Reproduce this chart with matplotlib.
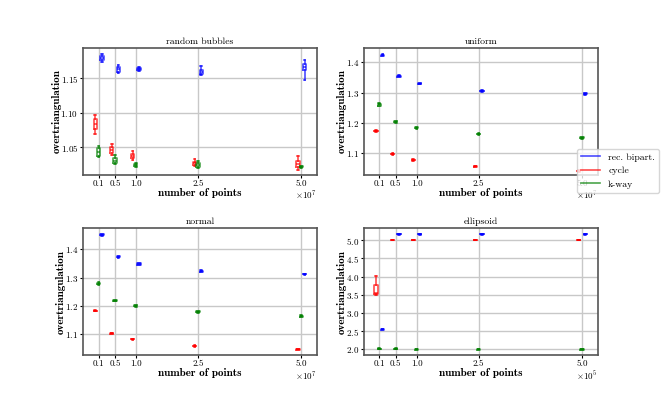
import matplotlib.pyplot as plt
from matplotlib.lines import Line2D

plt.rcParams.update({
    "font.family": "serif",
    "font.serif": ["cmr10"],
    "mathtext.fontset": "cm",
    "axes.formatter.use_mathtext": True,
    "font.size": 6.5,
    "xtick.major.size": 2.0,
    "ytick.major.size": 2.0,
    "xtick.major.pad": 1.5,
    "ytick.major.pad": 1.5,
})

# number of points (in units of the axis offset)
sizes = [0.1, 0.5, 1.0, 2.5, 5.0]
methods = ["rec. bipart.", "cycle", "k-way"]

# box stats per size: (whislo, q1, med, q3, whishi)
bubbles_bipart = [(1.174, 1.1765, 1.179, 1.182, 1.185), (1.157, 1.1586, 1.163, 1.167, 1.169),
                  (1.160, 1.162, 1.164, 1.165, 1.1668), (1.1543, 1.156, 1.159, 1.162, 1.1678),
                  (1.148, 1.162, 1.166, 1.1707, 1.177)]
bubbles_cycle = [(1.0687, 1.0763, 1.083, 1.0907, 1.0968), (1.0389, 1.0422, 1.046, 1.0509, 1.0547),
                 (1.0313, 1.034, 1.037, 1.0405, 1.0443), (1.0231, 1.0245, 1.027, 1.029, 1.0327),
                 (1.0164, 1.0217, 1.026, 1.0307, 1.038)]
bubbles_kway = [(1.036, 1.0375, 1.043, 1.0486, 1.0523), (1.025, 1.0265, 1.030, 1.0346, 1.0385),
                (1.022, 1.023, 1.024, 1.0255, 1.027), (1.0198, 1.0215, 1.024, 1.0278, 1.030),
                (1.0205, 1.0215, 1.022, 1.0225, 1.023)]

uniform_bipart = [(1.420, 1.422, 1.424, 1.426, 1.428), (1.351, 1.352, 1.354, 1.356, 1.357),
                  (1.327, 1.328, 1.330, 1.332, 1.333), (1.303, 1.304, 1.306, 1.307, 1.308),
                  (1.293, 1.294, 1.296, 1.298, 1.299)]
uniform_cycle = [(1.171, 1.172, 1.173, 1.174, 1.175), (1.095, 1.096, 1.097, 1.098, 1.099),
                 (1.075, 1.076, 1.077, 1.078, 1.079), (1.054, 1.055, 1.056, 1.057, 1.058),
                 (1.039, 1.040, 1.041, 1.042, 1.043)]
uniform_kway = [(1.255, 1.257, 1.261, 1.263, 1.265), (1.201, 1.202, 1.204, 1.206, 1.207),
                (1.181, 1.182, 1.184, 1.186, 1.187), (1.161, 1.162, 1.163, 1.164, 1.165),
                (1.148, 1.149, 1.151, 1.153, 1.154)]

normal_bipart = [(1.448, 1.449, 1.451, 1.453, 1.454), (1.370, 1.371, 1.373, 1.375, 1.376),
                 (1.345, 1.346, 1.348, 1.350, 1.351), (1.319, 1.320, 1.322, 1.324, 1.325),
                 (1.310, 1.311, 1.312, 1.313, 1.314)]
normal_cycle = [(1.181, 1.182, 1.183, 1.184, 1.185), (1.102, 1.103, 1.104, 1.105, 1.106),
                (1.081, 1.082, 1.083, 1.084, 1.085), (1.057, 1.058, 1.059, 1.060, 1.061),
                (1.045, 1.046, 1.047, 1.048, 1.049)]
normal_kway = [(1.273, 1.276, 1.279, 1.282, 1.285), (1.216, 1.217, 1.219, 1.221, 1.222),
               (1.197, 1.199, 1.201, 1.203, 1.205), (1.176, 1.178, 1.180, 1.182, 1.184),
               (1.160, 1.162, 1.164, 1.166, 1.168)]

ellipsoid_bipart = [(2.535, 2.545, 2.553, 2.56, 2.57), (5.150, 5.157, 5.163, 5.168, 5.175),
                    (5.150, 5.157, 5.163, 5.168, 5.175), (5.150, 5.157, 5.163, 5.168, 5.175),
                    (5.150, 5.157, 5.163, 5.168, 5.175)]
ellipsoid_cycle = [(3.50, 3.52, 3.55, 3.764, 4.016), (4.99, 4.995, 5.0, 5.005, 5.01),
                   (4.99, 4.995, 5.0, 5.005, 5.01), (4.99, 4.995, 5.0, 5.005, 5.01),
                   (4.99, 4.995, 5.0, 5.005, 5.01)]
ellipsoid_kway = [(2.005, 2.012, 2.02, 2.026, 2.03), (2.005, 2.012, 2.02, 2.026, 2.03),
                  (1.99, 1.996, 2.0, 2.004, 2.01), (1.99, 1.996, 2.0, 2.004, 2.01),
                  (1.99, 1.996, 2.0, 2.004, 2.01)]

panels = [
    ("random bubbles", 7, [bubbles_bipart, bubbles_cycle, bubbles_kway],
     [1.05, 1.10, 1.15], (1.010, 1.194)),
    ("uniform", 7, [uniform_bipart, uniform_cycle, uniform_kway],
     [1.1, 1.2, 1.3, 1.4], (1.028, 1.448)),
    ("normal", 7, [normal_bipart, normal_cycle, normal_kway],
     [1.1, 1.2, 1.3, 1.4], (1.027, 1.474)),
    ("ellipsoid", 5, [ellipsoid_bipart, ellipsoid_cycle, ellipsoid_kway],
     [2.0, 2.5, 3.0, 3.5, 4.0, 4.5, 5.0], (1.846, 5.325)),
]

colors = ["b", "r", "g"]
offsets = [0.08, -0.08, 0.0]
width = 0.08

fig, axes = plt.subplots(2, 2, figsize=(6.64, 3.99), dpi=100)
fig.subplots_adjust(left=0.125, right=0.9, top=0.88, bottom=0.11, wspace=0.2, hspace=0.42)

for ax, (title, expo, series, yticks, ylim) in zip(axes.flat, panels):
    scale = 10.0 ** expo
    for data, c, off in zip(series, colors, offsets):
        stats = [dict(whislo=s[0], q1=s[1], med=s[2], q3=s[3], whishi=s[4], fliers=[])
                 for s in data]
        pos = [(x + off) * scale for x in sizes]
        props = dict(color=c, alpha=0.7, linewidth=1.2)
        ax.bxp(stats, positions=pos, widths=width * scale, manage_ticks=False,
               boxprops=props, whiskerprops=props, capprops=props, medianprops=props)
    ax.set_xticks([x * scale for x in sizes])
    ax.set_xticklabels([f"{x:.1f}" for x in sizes])
    ax.set_xlim((-0.02 - 0.257) * scale, (5.12 + 0.257) * scale)
    ax.set_yticks(yticks)
    ax.set_ylim(*ylim)
    ax.grid(True, color="#c8c8c8", linewidth=1.0)
    ax.set_axisbelow(True)
    for sp in ax.spines.values():
        sp.set_color("#555555")
        sp.set_linewidth(1.2)
    ax.set_title(title, fontsize=7, pad=3)
    ax.set_xlabel("number of points", fontfamily="cmb10", fontsize=8, labelpad=0)
    ax.set_ylabel("overtriangulation", fontfamily="cmb10", fontsize=8, labelpad=-1)
    # axis multiplier, as the scientific offset text
    ax.annotate(rf"$\times10^{{{expo}}}$", xy=(1, 0), xycoords="axes fraction",
                xytext=(0, -15), textcoords="offset points", ha="right", va="center",
                fontsize=6.5)

handles = [Line2D([], [], color=c, alpha=0.7, linewidth=1.2) for c in colors]
fig.legend(handles, methods, loc="upper left", bbox_to_anchor=(0.869, 0.627),
           borderaxespad=0, fontsize=7)

fig.savefig("out.png", dpi=100)
